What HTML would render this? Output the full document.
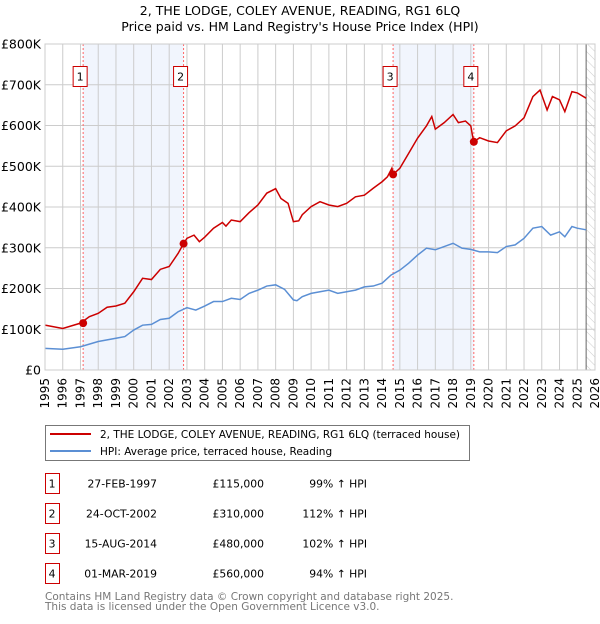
<!DOCTYPE html>
<html><head><meta charset="utf-8"><style>
body{margin:0;background:#fff;width:600px;height:620px;overflow:hidden;font-family:"DejaVu Sans","Liberation Sans",sans-serif;}
svg text{font-family:"DejaVu Sans","Liberation Sans",sans-serif;}
</style></head><body>
<svg id="chart" width="600" height="620">
<text x="300" y="15" text-anchor="middle" font-size="12.5">2, THE LODGE, COLEY AVENUE, READING, RG1 6LQ</text>
<text x="300" y="31" text-anchor="middle" font-size="12.5">Price paid vs. HM Land Registry's House Price Index (HPI)</text>
<g id="plot"></g>
</svg>
<script>
const yearTicks=[1995,1996,1997,1998,1999,2000,2001,2002,2003,2004,2005,2006,2007,2008,2009,2010,2011,2012,2013,2014,2015,2016,2017,2018,2019,2020,2021,2022,2023,2024,2025,2026];
const valueTicks=[0,100000,200000,300000,400000,500000,600000,700000,800000];
const valueTickLabels=["£0","£100K","£200K","£300K","£400K","£500K","£600K","£700K","£800K"];
const hpiYears=[1995,1996,1997,1998,1999,1999.5,2000,2000.5,2001,2001.5,2002,2002.5,2003,2003.5,2004,2004.5,2005,2005.5,2006,2006.5,2007,2007.5,2008,2008.5,2009,2009.2,2009.5,2010,2010.5,2011,2011.5,2012,2012.5,2013,2013.5,2014,2014.5,2015,2015.5,2016,2016.5,2017,2017.5,2018,2018.5,2019,2019.5,2020,2020.5,2021,2021.5,2022,2022.5,2023,2023.5,2024,2024.3,2024.7,2025,2025.5];
const hpiValues=[53,51,57,70,78,82,98,110,112,124,127,143,153,147,157,168,168,176,173,188,196,206,209,198,172,170,180,188,192,196,188,192,196,204,206,213,233,245,262,282,299,295,303,311,299,296,290,290,288,303,307,323,348,352,331,339,327,352,348,344];
const priceYears=[1995,1996,1997,1997.5,1998,1998.5,1999,1999.5,2000,2000.5,2001,2001.5,2002,2002.5,2002.81,2003,2003.4,2003.7,2004,2004.5,2005,2005.2,2005.5,2006,2006.5,2007,2007.5,2008,2008.3,2008.7,2009,2009.3,2009.5,2010,2010.5,2011,2011.5,2012,2012.5,2013,2013.5,2014,2014.3,2014.55,2014.62,2015,2015.5,2016,2016.5,2016.8,2017,2017.5,2018,2018.3,2018.7,2019,2019.1,2019.17,2019.5,2020,2020.5,2021,2021.5,2022,2022.5,2022.9,2023.3,2023.6,2024,2024.3,2024.7,2025,2025.5];
const priceValues=[110,102,115,131,139,154,157,164,192,225,222,247,254,286,310,323,331,315,326,348,362,353,368,364,386,405,434,445,421,409,364,366,381,401,413,405,401,409,425,429,446,462,474,495,480,495,532,569,599,622,591,607,627,607,611,599,574,560,570,562,558,587,599,619,671,687,638,671,663,634,683,680,667];
const saleLabels=["1","2","3","4"];
const saleYears=[1997.15,2002.81,2014.62,2019.17];
const salePrices=[115000,310000,480000,560000];
const saleDates=["27-FEB-1997","24-OCT-2002","15-AUG-2014","01-MAR-2019"];
const salePriceText=["£115,000","£310,000","£480,000","£560,000"];
const salePct=["99% ↑ HPI","112% ↑ HPI","102% ↑ HPI","94% ↑ HPI"];

const L=45,R=595,T=44,B=370;
const xs=y=>L+(y-1995)/(2026-1995)*(R-L);
const ys=v=>B-v/800000*(B-T);
const NS="http://www.w3.org/2000/svg";
const svg=document.getElementById('chart');
function mk(tag,attrs,parent){const e=document.createElementNS(NS,tag);for(const k in attrs)e.setAttribute(k,attrs[k]);(parent||svg).appendChild(e);return e;}

for(let i=0;i<4;i+=2){
  const r=mk('rect',{x:xs(saleYears[i]),y:T,width:xs(saleYears[i+1])-xs(saleYears[i]),height:B-T,fill:'#eef3fd',opacity:0.8});
  
  
}
const defs=mk('defs',{});
const pat=mk('pattern',{id:'hatch',width:6,height:6,patternUnits:'userSpaceOnUse',patternTransform:'rotate(-45)'},defs);
mk('line',{x1:0,y1:0,x2:0,y2:6,stroke:'#ccc','stroke-width':1},pat);
const hz=mk('rect',{x:xs(2025.5),y:T,width:R-xs(2025.5),height:B-T,fill:'url(#hatch)'});


yearTicks.forEach(y=>{
  const g=mk('line',{x1:xs(y),x2:xs(y),y1:T,y2:B,stroke:'#cccccc','stroke-width':1});
  
  
  const t=mk('text',{x:0,y:0,'font-size':12,'text-anchor':'end',transform:`translate(${xs(y)+4},${B+8}) rotate(-90)`});
  t.textContent=y;
  
  
});
valueTicks.forEach((v,i)=>{
  const g=mk('line',{x1:L,x2:R,y1:ys(v),y2:ys(v),stroke:'#cccccc','stroke-width':1});
  
  
  const t=mk('text',{x:L-4,y:ys(v)+4.5,'font-size':12.5,'text-anchor':'end'});
  t.textContent=valueTickLabels[i];
  
  
});
const vl=mk('line',{x1:xs(2025.5),x2:xs(2025.5),y1:T,y2:B,stroke:'#666','stroke-width':1});


saleYears.forEach((y,i)=>{
  const l=mk('line',{x1:xs(y),x2:xs(y),y1:T,y2:B,stroke:'#ff6666','stroke-width':1,'stroke-dasharray':'2,2'});
  
  
  const b=mk('rect',{x:xs(y)-10,y:66.5,width:14,height:20,fill:'#fff',stroke:'#cc0000','stroke-width':1});
  
  
  const t=mk('text',{x:xs(y)-3,y:80.5,'font-size':11,'text-anchor':'middle'});
  t.textContent=saleLabels[i];
  
  
});
const hp=mk('polyline',{points:hpiYears.map((y,i)=>xs(y)+','+ys(hpiValues[i]*1000)).join(' '),fill:'none',stroke:'#5b8fd4','stroke-width':1.5});


const pp=mk('polyline',{points:priceYears.map((y,i)=>xs(y)+','+ys(priceValues[i]*1000)).join(' '),fill:'none',stroke:'#cc0000','stroke-width':1.5});


saleYears.forEach((y,i)=>{
  const c=mk('circle',{cx:xs(y),cy:ys(salePrices[i]),r:4,fill:'#cc0000'});
  
  
});
const fr=mk('rect',{x:L,y:T,width:R-L,height:B-T,fill:'none',stroke:'#cccccc','stroke-width':1});


const lg=mk('g',{});


mk('rect',{x:45.5,y:425.5,width:424,height:35,fill:'#fff',stroke:'#777'},lg);
mk('line',{x1:50,x2:91,y1:434,y2:434,stroke:'#cc0000','stroke-width':2},lg);
mk('line',{x1:50,x2:91,y1:451,y2:451,stroke:'#5b8fd4','stroke-width':2},lg);
const lt1=mk('text',{x:100,y:438,'font-size':10.5},lg);lt1.textContent="2, THE LODGE, COLEY AVENUE, READING, RG1 6LQ (terraced house)";


const lt2=mk('text',{x:100,y:455,'font-size':10.5},lg);lt2.textContent="HPI: Average price, terraced house, Reading";


saleLabels.forEach((s,i)=>{
  const cy=483+i*30;
  const b=mk('rect',{x:45.5,y:cy-9.5,width:14,height:20,fill:'#fff',stroke:'#cc0000'});
  
  
  const vals=[[52,'middle',s],[157,'end',saleDates[i]],[264,'end',salePriceText[i]],[367,'end',salePct[i]]];
  vals.forEach(v=>{const t=mk('text',{x:v[0],y:cy+4.5,'font-size':10.8,'text-anchor':v[1]});t.textContent=v[2];
    
    });
});
const f1=mk('text',{x:45,y:600,'font-size':10.5,fill:'#777'});f1.textContent="Contains HM Land Registry data © Crown copyright and database right 2025.";


const f2=mk('text',{x:45,y:610,'font-size':10.5,fill:'#777'});f2.textContent="This data is licensed under the Open Government Licence v3.0.";


</script>
</body></html>
